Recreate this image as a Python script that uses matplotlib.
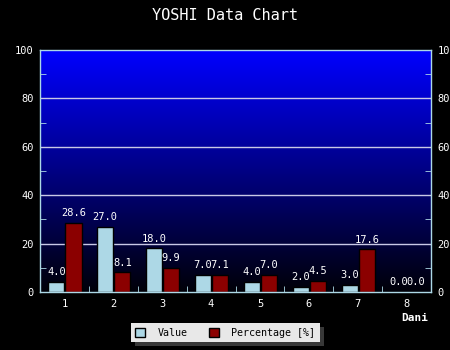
import numpy as np
import matplotlib
matplotlib.use("Agg")
import matplotlib.pyplot as plt
from matplotlib.colors import LinearSegmentedColormap
from matplotlib.patches import Patch

days = [1, 2, 3, 4, 5, 6, 7, 8]
values = [4.0, 27.0, 18.0, 7.0, 4.0, 2.0, 3.0, 0.0]
percentages = [28.6, 8.1, 9.9, 7.1, 7.0, 4.5, 17.6, 0.0]

VALUE_COLOR = '#add8e6'
PCT_COLOR = '#8b0000'
AXIS_COLOR = '#add8e6'
FONT = 'DejaVu Sans Mono'


def main():
    fig = plt.figure(figsize=(4.5, 3.5), dpi=100, facecolor='black')
    ax = fig.add_axes([40 / 450, 1 - 292 / 350, 391 / 450, 242 / 350])
    ax.set_xlim(0.5, 8.5)
    ax.set_ylim(0, 100)

    # vertical background gradient: blue at the top fading to black
    cmap = LinearSegmentedColormap.from_list('bg', ['#000008', '#0000ff'])
    grad = np.linspace(0, 1, 256).reshape(-1, 1)
    ax.imshow(grad, cmap=cmap, aspect='auto', origin='lower',
              extent=[0.5, 8.5, 0, 100], zorder=0)

    for y in [20, 40, 60, 80]:
        ax.axhline(y, color='#c8c8e6', lw=1, zorder=1)

    x = np.array(days, dtype=float)
    w = 0.33
    b1 = ax.bar(x - 0.165, values, w, color=VALUE_COLOR, edgecolor='black',
                lw=1, zorder=2, label='Value')
    b2 = ax.bar(x + 0.185, percentages, w, color=PCT_COLOR, edgecolor='black',
                lw=1, zorder=2, label='Percentage [%]')

    for bars, vals in [(b1, values), (b2, percentages)]:
        for rect, v in zip(bars, vals):
            ax.text(rect.get_x() + rect.get_width() / 2, v + 2, '%.1f' % v,
                    ha='center', va='bottom', color='white', fontsize=7.5,
                    family=FONT, zorder=3)

    for side in ['left', 'right', 'bottom', 'top']:
        ax.spines[side].set_color(AXIS_COLOR)
        ax.spines[side].set_linewidth(1)
        ax.spines[side].set_zorder(4)

    ax.set_xticks(days)
    ax.set_xticklabels([str(d) for d in days])
    ax.set_xticks(np.arange(1.5, 8.5, 1), minor=True)
    ax.tick_params(axis='x', which='major', length=0, pad=5,
                   labelcolor='white', labelsize=7.5)
    ax.tick_params(axis='x', which='minor', direction='in', length=4,
                   color=AXIS_COLOR)

    ax.set_yticks(range(0, 101, 20))
    ax.set_yticks(range(10, 100, 20), minor=True)
    ax.tick_params(axis='y', which='both', direction='in', left=True,
                   right=True, labelleft=True, labelright=True,
                   color=AXIS_COLOR, labelcolor='white', labelsize=7.5)
    ax.tick_params(axis='y', which='major', length=0, pad=4.5)
    ax.tick_params(axis='y', which='minor', length=4)
    for lbl in ax.get_xticklabels() + ax.get_yticklabels():
        lbl.set_family(FONT)

    fig.text(0.5, 1 - 15 / 350, 'YOSHI Data Chart', ha='center', va='center',
             color='white', fontsize=11, family=FONT)
    fig.text(415 / 450, 1 - 318 / 350, 'Dani', ha='center', va='center',
             color='white', fontsize=8, family=FONT, weight='bold')

    handles = [Patch(facecolor=VALUE_COLOR, edgecolor='black', lw=1),
               Patch(facecolor=PCT_COLOR, edgecolor='black', lw=1)]
    leg = fig.legend(handles, ['Value', 'Percentage [%]'], ncol=2,
                     loc='center', bbox_to_anchor=(225 / 450, 1 - 332.5 / 350),
                     frameon=True, fancybox=False,
                     shadow={'color': '#707070', 'ox': 3, 'oy': -3},
                     facecolor='#e8e8e8', edgecolor='#e8e8e8', framealpha=1,
                     prop={'family': FONT, 'size': 7.2},
                     handlelength=1.0, handleheight=1.0, handletextpad=1.25,
                     columnspacing=2.1, borderpad=0.45, borderaxespad=0)
    leg.get_frame().set_linewidth(0)

    fig.savefig('out.png', dpi=100, facecolor='black')


if __name__ == '__main__':
    main()
